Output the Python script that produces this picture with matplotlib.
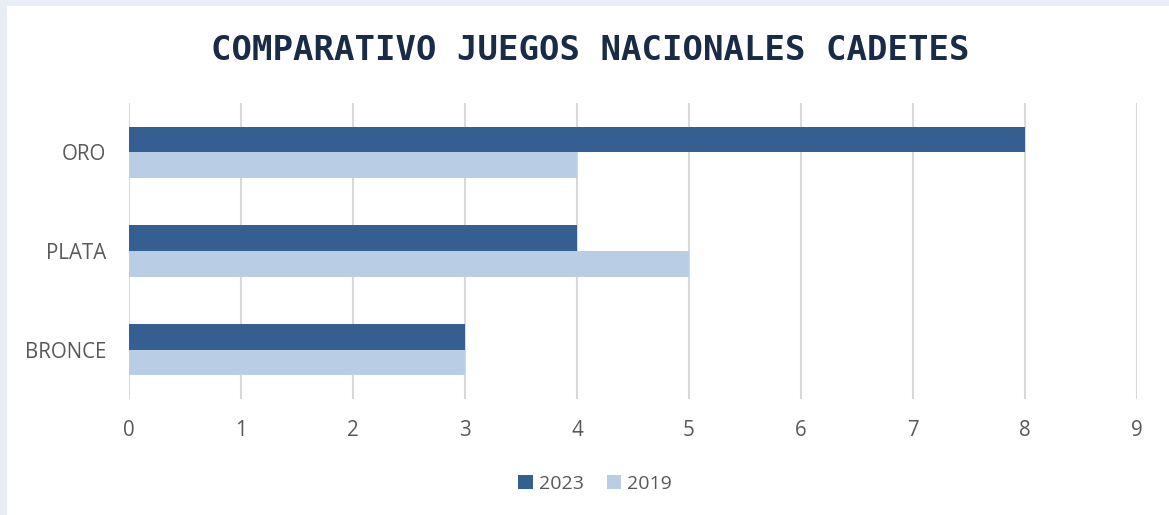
import numpy as np
import matplotlib.pyplot as plt
from matplotlib.patches import Rectangle

categories = ['BRONCE', 'PLATA', 'ORO']
values_2023 = [3, 4, 8]
values_2019 = [3, 5, 4]
x_ticks = list(range(0, 10))

dark = '#355f91'
light = '#b9cde5'
text_gray = '#595959'

fig = plt.figure(figsize=(11.69, 5.15), dpi=100)
fig.patch.set_facecolor('#e9edf5')
# white chart panel behind everything
fig.patches.append(Rectangle((7 / 1169, 0), 1, 1 - 6 / 515, transform=fig.transFigure,
                             facecolor='white', edgecolor='none', zorder=-5))

ax = fig.add_axes([129 / 1169, 1 - 399 / 515, (1137 - 129) / 1169, (399 - 103) / 515])
ax.set_facecolor('none')

y = np.arange(len(categories))
h = 0.26
ax.barh(y + h / 2, values_2023, height=h, color=dark, label='2023', zorder=3)
ax.barh(y - h / 2, values_2019, height=h, color=light, label='2019', zorder=3)

ax.set_xlim(0, 9)
ax.set_ylim(-0.5, 2.5)
ax.set_xticks(x_ticks)
ax.set_yticks(y)
ax.set_yticklabels(categories)
ax.tick_params(axis='both', length=0, labelsize=14.8, labelcolor=text_gray)
ax.tick_params(axis='x', pad=15)
ax.tick_params(axis='y', pad=16.5)
for lab in ax.get_xticklabels() + ax.get_yticklabels():
    lab.set_fontfamily('Open Sans')
ax.grid(axis='x', color='#d9d9d9', linewidth=1.5, zorder=0)
for s in ax.spines.values():
    s.set_visible(False)

fig.text(590 / 1169, 1 - 51 / 515, 'COMPARATIVO JUEGOS NACIONALES CADETES',
         ha='center', va='center', fontsize=24.5, fontweight='bold',
         family='DejaVu Sans Mono', color='#1a2b47')

leg = fig.legend(loc='center', bbox_to_anchor=(595 / 1169, 1 - 484 / 515), ncol=2,
                 frameon=False, handlelength=0.75, handleheight=0.75, handletextpad=0.3,
                 columnspacing=1.2, prop={'family': 'Open Sans', 'size': 14})
for t in leg.get_texts():
    t.set_color(text_gray)

fig.savefig('out.png', dpi=100, facecolor=fig.get_facecolor())
